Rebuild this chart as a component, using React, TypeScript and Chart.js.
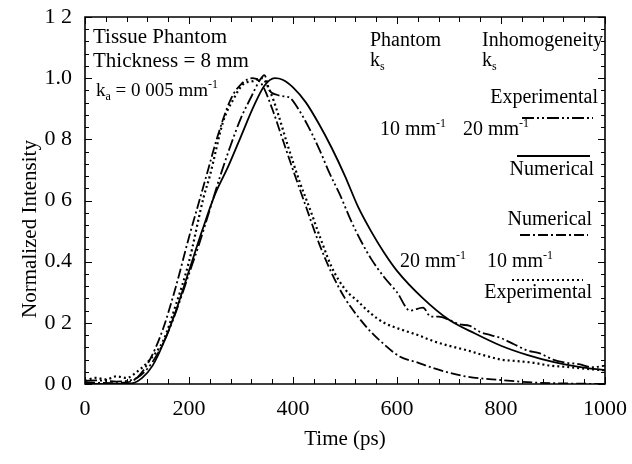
import React, { useEffect, useRef } from "react";
import { Chart, registerables } from "chart.js";

Chart.register(...registerables);

// ---- Axis tick labels (as printed) ----
const xTickLabels = ["0", "200", "400", "600", "800", "1000"];
const yTickLabels = ["0 0", "0 2", "0.4", "0 6", "0 8", "1.0", "1 2"];
const yTitle = "Normalized Intensity";
const xTitle = "Time (ps)";

// ---- Numerical: phantom ks 10 mm-1, inhomogeneity ks 20 mm-1 (solid) ----
const numA_t = [0, 60, 90, 110, 130, 150, 175, 200, 225, 250, 275, 300, 325, 345, 365, 380, 400, 425, 450, 475, 500, 525, 550, 575, 600, 650, 700, 750, 800, 850, 900, 950, 1000];
const numA_v = [0, 0, 0.002, 0.02, 0.06, 0.13, 0.24, 0.37, 0.5, 0.62, 0.71, 0.81, 0.91, 0.975, 1.0, 0.995, 0.97, 0.92, 0.85, 0.77, 0.68, 0.58, 0.5, 0.43, 0.37, 0.28, 0.21, 0.165, 0.125, 0.095, 0.072, 0.056, 0.045];

// ---- Experimental: phantom ks 10 mm-1, inhomogeneity ks 20 mm-1 (dash-dot-dot) ----
const expA_t = [0, 20, 40, 60, 80, 100, 120, 140, 160, 180, 200, 220, 240, 260, 280, 300, 320, 335, 345, 355, 370, 385, 395, 410, 430, 450, 470, 490, 510, 530, 550, 575, 600, 625, 650, 665, 680, 700, 720, 740, 760, 780, 800, 825, 850, 875, 900, 925, 950, 975, 1000];
const expA_v = [0.01, 0.012, 0.01, 0.008, 0.01, 0.02, 0.05, 0.1, 0.17, 0.26, 0.36, 0.46, 0.57, 0.68, 0.78, 0.87, 0.94, 0.99, 1.01, 0.96, 0.945, 0.94, 0.935, 0.9, 0.84, 0.77, 0.69, 0.62, 0.54, 0.47, 0.41, 0.35, 0.3, 0.24, 0.25, 0.22, 0.22, 0.21, 0.195, 0.19, 0.17, 0.16, 0.15, 0.13, 0.11, 0.1, 0.08, 0.07, 0.065, 0.055, 0.06];

// ---- Numerical: phantom ks 20 mm-1, inhomogeneity ks 10 mm-1 (dash-dot) ----
const numB_t = [0, 60, 80, 100, 125, 150, 175, 200, 220, 235, 255, 280, 300, 323, 340, 360, 380, 400, 425, 450, 475, 500, 525, 550, 575, 605, 640, 670, 700, 735, 800, 860, 920, 1000];
const numB_v = [0.005, 0.003, 0.005, 0.02, 0.08, 0.18, 0.32, 0.48, 0.6, 0.69, 0.81, 0.93, 0.98, 1.0, 0.98, 0.9, 0.8, 0.7, 0.58, 0.46, 0.36, 0.28, 0.22, 0.17, 0.13, 0.09, 0.07, 0.052, 0.037, 0.024, 0.013, 0.005, 0.002, 0.0];

// ---- Experimental: phantom ks 20 mm-1, inhomogeneity ks 10 mm-1 (dotted) ----
const expB_t = [0, 20, 40, 60, 80, 100, 125, 150, 175, 200, 228, 240, 266, 285, 304, 322, 340, 355, 370, 388, 413, 433, 452, 475, 500, 525, 550, 575, 605, 640, 670, 700, 735, 765, 800, 830, 860, 895, 925, 960, 1000];
const expB_v = [0.01, 0.02, 0.015, 0.025, 0.02, 0.04, 0.08, 0.14, 0.26, 0.4, 0.61, 0.68, 0.86, 0.93, 0.98, 0.99, 1.0, 0.96, 0.89, 0.79, 0.66, 0.57, 0.48, 0.38, 0.31, 0.27, 0.23, 0.2, 0.18, 0.16, 0.14, 0.125, 0.11, 0.095, 0.08, 0.075, 0.07, 0.06, 0.056, 0.05, 0.045];

const FONT = "'Liberation Serif', 'Times New Roman', serif";

type Part = [string, "n" | "sub" | "sup"];

function partsWidth(ctx: CanvasRenderingContext2D, parts: Part[], size: number) {
  let w = 0;
  for (const [t, k] of parts) {
    ctx.font = `${k === "n" ? size : Math.round(size * 0.62)}px ${FONT}`;
    w += ctx.measureText(t).width;
  }
  return w;
}

function drawRich(ctx: CanvasRenderingContext2D, x: number, y: number, parts: Part[], size: number, align: "left" | "right" = "left") {
  let cx = align === "right" ? x - partsWidth(ctx, parts, size) : x;
  ctx.textAlign = "left";
  ctx.textBaseline = "alphabetic";
  ctx.fillStyle = "#000";
  for (const [t, k] of parts) {
    const s = k === "n" ? size : Math.round(size * 0.62);
    ctx.font = `${s}px ${FONT}`;
    const dy = k === "sub" ? size * 0.22 : k === "sup" ? -size * 0.42 : 0;
    ctx.fillText(t, cx, y + dy);
    cx += ctx.measureText(t).width;
  }
}

const annotations: { x: number; y: number; parts: Part[]; size: number; align?: "left" | "right" }[] = [
  { x: 93, y: 43, parts: [["Tissue Phantom", "n"]], size: 21 },
  { x: 93, y: 67, parts: [["Thickness = 8 mm", "n"]], size: 21 },
  { x: 96, y: 96, parts: [["k", "n"], ["a", "sub"], [" = 0 005 mm", "n"], ["-1", "sup"]], size: 19 },
  { x: 370, y: 46, parts: [["Phantom", "n"]], size: 20 },
  { x: 370, y: 66, parts: [["k", "n"], ["s", "sub"]], size: 20 },
  { x: 482, y: 46, parts: [["Inhomogeneity", "n"]], size: 20 },
  { x: 482, y: 66, parts: [["k", "n"], ["s", "sub"]], size: 20 },
  { x: 598, y: 103, parts: [["Experimental", "n"]], size: 20, align: "right" },
  { x: 380, y: 135, parts: [["10 mm", "n"], ["-1", "sup"]], size: 20 },
  { x: 463, y: 135, parts: [["20 mm", "n"], ["-1", "sup"]], size: 20 },
  { x: 594, y: 175, parts: [["Numerical", "n"]], size: 20, align: "right" },
  { x: 592, y: 225, parts: [["Numerical", "n"]], size: 20, align: "right" },
  { x: 400, y: 267, parts: [["20 mm", "n"], ["-1", "sup"]], size: 20 },
  { x: 487, y: 267, parts: [["10 mm", "n"], ["-1", "sup"]], size: 20 },
  { x: 592, y: 298, parts: [["Experimental", "n"]], size: 20, align: "right" },
];

const DASH_DOT_DOT = [12, 3, 2, 3, 2, 3];
const DASH_DOT = [10, 3, 2, 3];
const DOTTED = [2, 3];

const legendLines = [
  { x1: 522, x2: 593, y: 118, dash: DASH_DOT_DOT, w: 1.8 },
  { x1: 517, x2: 590, y: 156, dash: [] as number[], w: 1.8 },
  { x1: 520, x2: 588, y: 235, dash: DASH_DOT, w: 1.8 },
  { x1: 512, x2: 583, y: 280, dash: DOTTED, w: 2.2 },
];

const framePlugin = {
  id: "frameDecor",
  afterDraw(chart: any) {
    const ctx: CanvasRenderingContext2D = chart.ctx;
    const a = chart.chartArea;
    const xs = chart.scales.x;
    const ys = chart.scales.y;
    ctx.save();
    ctx.globalAlpha = 1;
    ctx.globalCompositeOperation = "source-over";
    ctx.setLineDash([]);
    ctx.strokeStyle = "#000000";
    ctx.lineWidth = 1.6;
    ctx.beginPath();
    ctx.moveTo(a.left, a.top);
    ctx.lineTo(a.right, a.top);
    ctx.lineTo(a.right, a.bottom);
    ctx.lineTo(a.left, a.bottom);
    ctx.closePath();
    ctx.stroke();
    ctx.lineWidth = 1;
    ctx.beginPath();
    for (let i = 0; i <= 25; i++) {
      const v = i * 40;
      const px = Math.round(xs.getPixelForValue(v)) + 0.5;
      const len = i % 5 === 0 ? 7 : 5;
      ctx.moveTo(px, a.bottom);
      ctx.lineTo(px, a.bottom - len);
      ctx.moveTo(px, a.top);
      ctx.lineTo(px, a.top + len);
    }
    for (let i = 0; i <= 30; i++) {
      const v = i * 0.04;
      const py = Math.round(ys.getPixelForValue(v)) + 0.5;
      const len = i % 5 === 0 ? 7 : 4;
      ctx.moveTo(a.left, py);
      ctx.lineTo(a.left + len, py);
      ctx.moveTo(a.right, py);
      ctx.lineTo(a.right - len, py);
    }
    ctx.stroke();
    for (const l of legendLines) {
      ctx.lineWidth = l.w;
      ctx.setLineDash(l.dash);
      ctx.beginPath();
      ctx.moveTo(l.x1, l.y);
      ctx.lineTo(l.x2, l.y);
      ctx.stroke();
    }
    ctx.setLineDash([]);
    for (const an of annotations) drawRich(ctx, an.x, an.y, an.parts, an.size, an.align || "left");
    // y-axis title (placed as in the printed figure, slightly below the axis middle)
    ctx.save();
    ctx.translate(30, 229);
    ctx.rotate(-Math.PI / 2);
    ctx.font = `21px ${FONT}`;
    ctx.textAlign = "center";
    ctx.textBaseline = "middle";
    ctx.fillStyle = "#000";
    ctx.fillText(yTitle, 0, 0);
    ctx.restore();
    ctx.restore();
  },
};

function series(t: number[], v: number[]) {
  return t.map((x, i) => ({ x, y: v[i] }));
}

export default function App() {
  const ref = useRef<HTMLCanvasElement | null>(null);
  useEffect(() => {
    if (!ref.current) return;
    const common = { pointRadius: 0, borderColor: "#000", fill: false, cubicInterpolationMode: "monotone" as const };
    const chart = new Chart(ref.current, {
      type: "line",
      data: {
        datasets: [
          { ...common, label: "Numerical 10/20", data: series(numA_t, numA_v), borderWidth: 1.8, borderDash: [] },
          { ...common, label: "Experimental 10/20", data: series(expA_t, expA_v), borderWidth: 1.8, borderDash: DASH_DOT_DOT },
          { ...common, label: "Numerical 20/10", data: series(numB_t, numB_v), borderWidth: 1.8, borderDash: DASH_DOT },
          { ...common, label: "Experimental 20/10", data: series(expB_t, expB_v), borderWidth: 2.2, borderDash: DOTTED },
        ],
      },
      options: {
        responsive: false,
        animation: false,
        devicePixelRatio: 1,
        layout: { padding: { top: 17, right: 27, left: 0, bottom: 0 } },
        plugins: { legend: { display: false }, tooltip: { enabled: false } },
        scales: {
          x: {
            type: "linear",
            min: 0,
            max: 1000,
            grid: { display: false, drawTicks: false },
            border: { display: false },
            ticks: {
              stepSize: 200,
              padding: 12,
              color: "#000",
              font: { family: FONT, size: 22 },
              maxRotation: 0,
              callback: (v: any) => xTickLabels[Math.round(Number(v) / 200)] ?? "",
            },
            title: { display: true, text: xTitle, color: "#000", font: { family: FONT, size: 21 }, padding: { top: 0, bottom: 12 } },
            afterFit: (s: any) => { s.height = 80; s.paddingLeft = 0; s.paddingRight = 0; },
          },
          y: {
            type: "linear",
            min: 0,
            max: 1.2,
            grid: { display: false, drawTicks: false },
            border: { display: false },
            ticks: {
              stepSize: 0.2,
              padding: 13,
              color: "#000",
              font: { family: FONT, size: 22 },
              callback: (v: any) => yTickLabels[Math.round(Number(v) / 0.2)] ?? "",
            },
            title: { display: false },
            afterFit: (s: any) => { s.width = 85; s.paddingTop = 0; s.paddingBottom = 0; },
          },
        },
      },
      plugins: [framePlugin],
    });
    return () => chart.destroy();
  }, []);
  return (
    <div style={{ position: "absolute", left: 0, top: 0, width: 632, height: 464, background: "#fff" }}>
      <canvas ref={ref} width={632} height={464} />
    </div>
  );
}
